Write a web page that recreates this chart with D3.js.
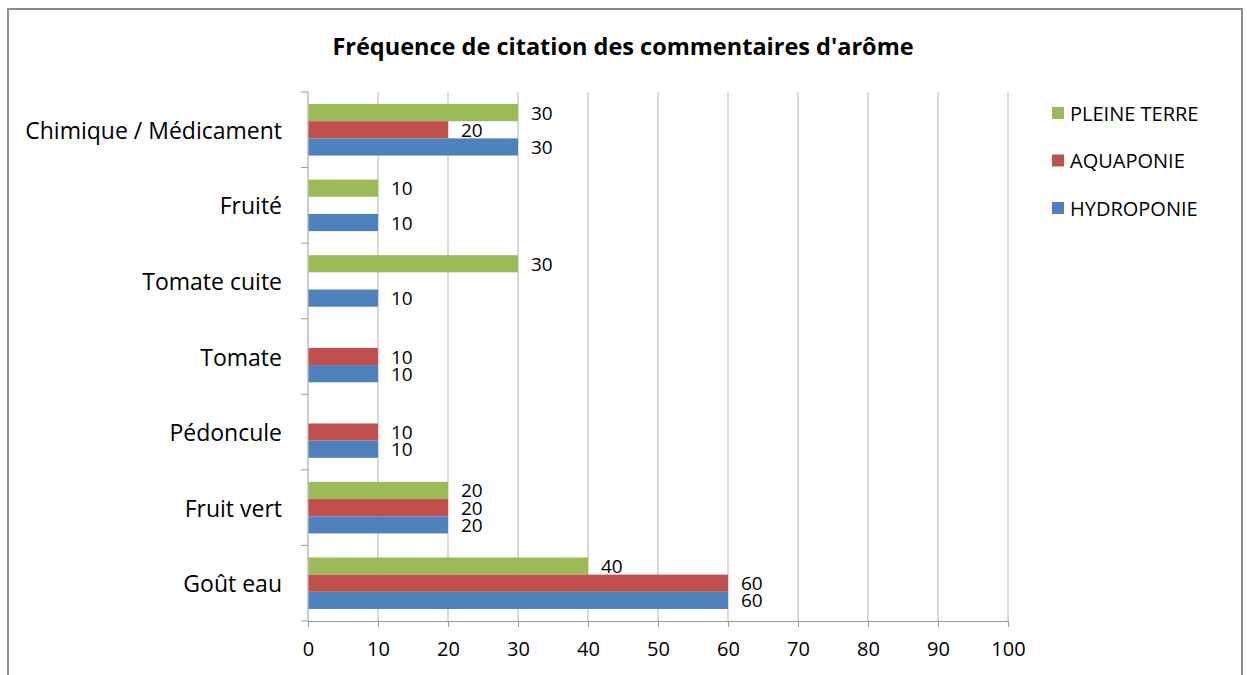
<!DOCTYPE html>
<html>
<head>
<meta charset="utf-8">
<script src="https://cdn.jsdelivr.net/npm/d3@7"></script>
<style>
  body { margin: 0; background: #fff; }
  text { font-family: "Open Sans", Lato, sans-serif; fill: #000; }
</style>
</head>
<body>
<div id="chart"></div>
<script>
// chart values
const categories = ["Chimique / Médicament", "Fruité", "Tomate cuite", "Tomate", "Pédoncule", "Fruit vert", "Goût eau"];
const seriesNames = ["PLEINE TERRE", "AQUAPONIE", "HYDROPONIE"];
const pleineTerre = [30, 10, 30, null, null, 20, 40];
const aquaponie = [20, null, null, 10, 10, 20, 60];
const hydroponie = [30, 10, 10, 10, 10, 20, 60];
const xTicks = [0, 10, 20, 30, 40, 50, 60, 70, 80, 90, 100];

const colors = { "PLEINE TERRE": "#9BBB59", "AQUAPONIE": "#C0504D", "HYDROPONIE": "#4F81BD" };
const values = { "PLEINE TERRE": pleineTerre, "AQUAPONIE": aquaponie, "HYDROPONIE": hydroponie };

const W = 1247, H = 675;
const plot = { left: 308, right: 1008, top: 92, bottom: 621 };

const svg = d3.select("#chart").append("svg")
  .attr("width", W)
  .attr("height", H);

// outer frame (bottom edge falls outside the picture)
svg.append("path")
  .attr("d", `M8,${H + 5} L8,9 L1242,9 L1242,${H + 5}`)
  .attr("fill", "none")
  .attr("stroke", "#8c8c8c")
  .attr("stroke-width", 2);

// title
svg.append("text")
  .attr("x", 623)
  .attr("y", 46)
  .attr("text-anchor", "middle")
  .attr("dominant-baseline", "central")
  .style("font-size", "23.5px")
  .style("font-weight", "bold")
  .text("Fréquence de citation des commentaires d'arôme");

const x = d3.scaleLinear().domain([0, 100]).range([plot.left, plot.right]);
const y = d3.scaleBand().domain(categories).range([plot.top, plot.bottom]);
const inner = d3.scaleBand().domain(seriesNames)
  .range([0, y.bandwidth()])
  .paddingOuter(0.7)
  .paddingInner(0);

// gridlines
svg.append("g")
  .selectAll("line")
  .data(xTicks.slice(1))
  .join("line")
  .attr("x1", d => x(d)).attr("x2", d => x(d))
  .attr("y1", plot.top).attr("y2", plot.bottom)
  .attr("stroke", "#b3b3b3")
  .attr("stroke-width", 1);

// x axis
const xAxis = svg.append("g")
  .attr("transform", `translate(0,${plot.bottom})`)
  .call(d3.axisBottom(x).tickValues(xTicks).tickSize(6).tickSizeOuter(0).tickPadding(15));
xAxis.select(".domain").attr("stroke", "#999");
xAxis.selectAll(".tick line").attr("stroke", "#999");
xAxis.selectAll(".tick text").style("font-size", "20px").attr("fill", "#000");

// y axis: ticks on category boundaries
const yAxis = svg.append("g").attr("transform", `translate(${plot.left},0)`);
yAxis.append("line")
  .attr("x1", 0).attr("x2", 0)
  .attr("y1", plot.top).attr("y2", plot.bottom)
  .attr("stroke", "#999");
yAxis.selectAll(".bound")
  .data(d3.range(categories.length + 1))
  .join("line")
  .attr("class", "bound")
  .attr("x1", -7).attr("x2", 0)
  .attr("y1", i => plot.top + i * y.step())
  .attr("y2", i => plot.top + i * y.step())
  .attr("stroke", "#999");
yAxis.selectAll(".cat")
  .data(categories)
  .join("text")
  .attr("class", "cat")
  .attr("x", -26)
  .attr("y", d => y(d) + y.bandwidth() / 2)
  .attr("text-anchor", "end")
  .attr("dominant-baseline", "central")
  .style("font-size", "23px")
  .text(d => d);

// bars
const rows = [];
seriesNames.forEach(s => {
  categories.forEach((c, i) => {
    if (values[s][i] != null) rows.push({ series: s, cat: c, value: values[s][i] });
  });
});

svg.append("g")
  .selectAll("rect")
  .data(rows)
  .join("rect")
  .attr("x", x(0) + 0.5)
  .attr("y", d => y(d.cat) + inner(d.series))
  .attr("width", d => x(d.value) - x(0) - 0.5)
  .attr("height", inner.bandwidth())
  .attr("fill", d => colors[d.series]);

// value labels
svg.append("g")
  .selectAll("text")
  .data(rows)
  .join("text")
  .attr("x", d => x(d.value) + 13)
  .attr("y", d => y(d.cat) + inner(d.series) + inner.bandwidth() / 2)
  .attr("dominant-baseline", "central")
  .style("font-size", "19px")
  .text(d => d.value);

// legend
const legend = svg.append("g")
  .selectAll("g")
  .data(seriesNames)
  .join("g")
  .attr("transform", (d, i) => `translate(1052,${113 + i * 47.5})`);
legend.append("rect")
  .attr("x", 0).attr("y", -6)
  .attr("width", 12).attr("height", 12)
  .attr("fill", d => colors[d]);
legend.append("text")
  .attr("x", 18)
  .attr("y", 0)
  .attr("dominant-baseline", "central")
  .style("font-size", "20px")
  .text(d => d);
</script>
</body>
</html>
